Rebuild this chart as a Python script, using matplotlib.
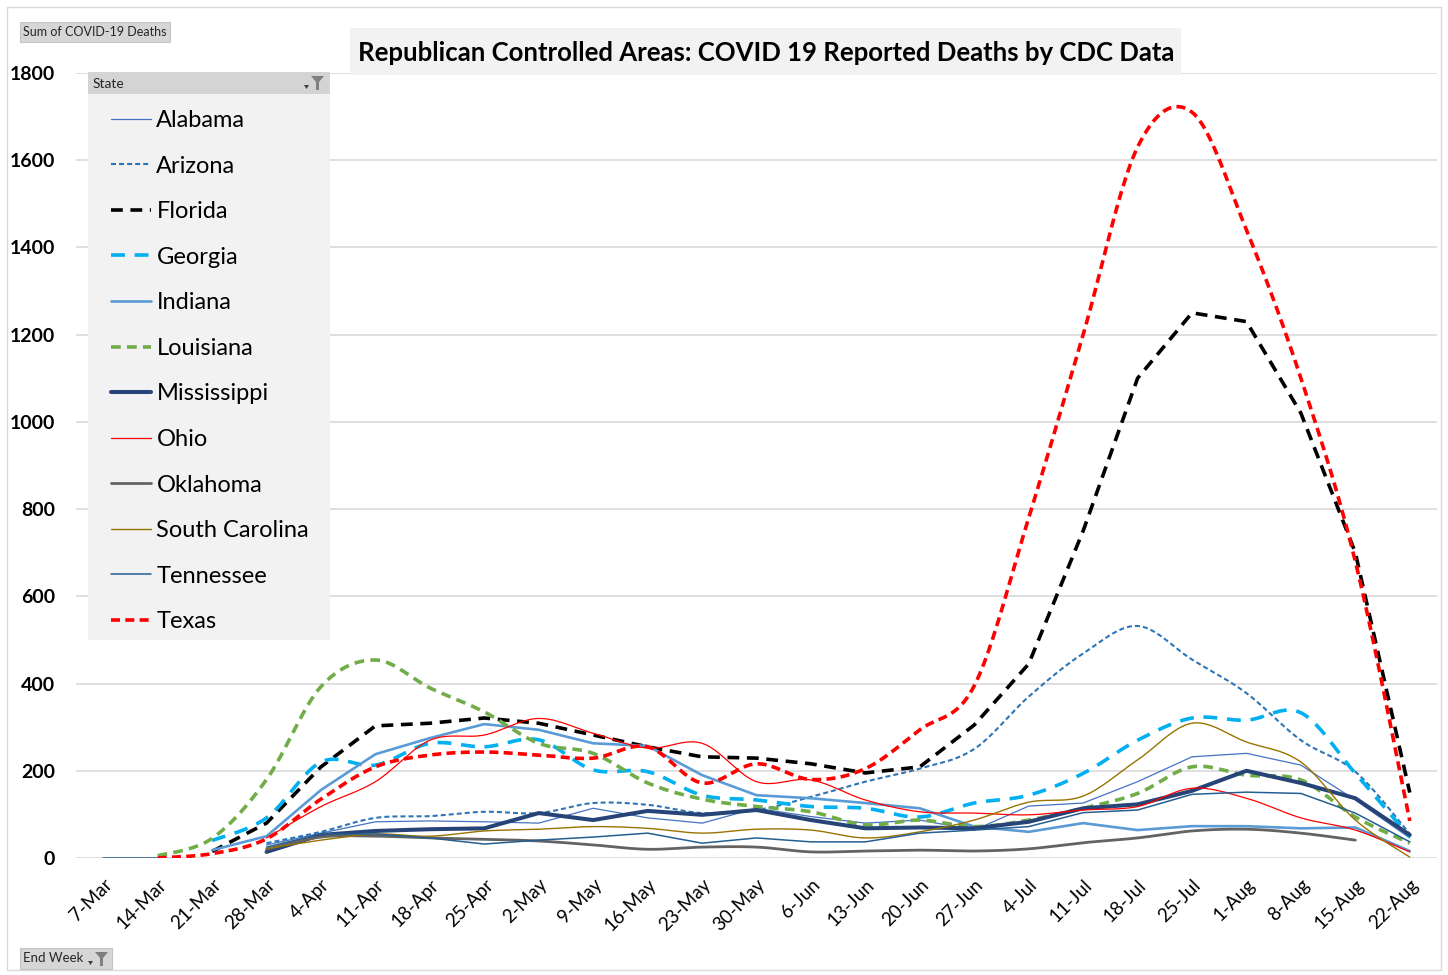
"""Republican controlled areas: weekly COVID-19 deaths (CDC), Excel pivot chart look-alike."""

import numpy as np
import matplotlib.pyplot as plt
from matplotlib.patches import Rectangle, Polygon

plt.rcParams["font.family"] = ["Lato", "DejaVu Sans"]
plt.rcParams["lines.scale_dashes"] = False

nan = np.nan

weeks = ["7-Mar", "14-Mar", "21-Mar", "28-Mar", "4-Apr", "11-Apr", "18-Apr", "25-Apr",
         "2-May", "9-May", "16-May", "23-May", "30-May", "6-Jun", "13-Jun", "20-Jun",
         "27-Jun", "4-Jul", "11-Jul", "18-Jul", "25-Jul", "1-Aug", "8-Aug", "15-Aug", "22-Aug"]

alabama = [nan, nan, nan, 30, 57, 83, 85, 83, 80, 114, 92, 80, 114, 95, 80, 87, 64,
           119, 126, 175, 232, 240, 213, 133, 46]
arizona = [nan, nan, nan, 34, 60, 92, 96, 106, 103, 126, 122, 103, 110, 140, 175, 205, 250,
           370, 469, 532, 455, 378, 270, 198, 55]
florida = [nan, nan, 15, 80, 209, 303, 309, 321, 309, 282, 255, 232, 229, 216, 195, 209, 305,
           445, 750, 1100, 1250, 1230, 1020, 700, 150]
georgia = [nan, nan, 40, 92, 220, 213, 263, 255, 271, 202, 198, 144, 133, 118, 114, 94, 126,
           144, 194, 270, 321, 316, 333, 194, 48]
indiana = [nan, nan, 18, 50, 156, 238, 275, 307, 294, 263, 257, 190, 144, 137, 126, 114, 72,
           60, 80, 64, 73, 73, 68, 70, 16]
louisiana = [nan, 5, 45, 180, 393, 454, 390, 335, 263, 240, 172, 135, 118, 106, 76, 87, 72,
             87, 114, 148, 209, 190, 179, 94, 34]
mississippi = [nan, nan, nan, 14, 53, 62, 66, 68, 103, 87, 108, 99, 110, 87, 68, 70, 68,
               83, 114, 123, 154, 200, 172, 137, 53]
ohio = [nan, nan, nan, 46, 118, 175, 270, 282, 320, 286, 252, 263, 175, 179, 133, 106, 103,
        99, 110, 118, 160, 137, 92, 64, 14]
oklahoma = [nan, nan, nan, 20, 48, 50, 46, 43, 39, 30, 20, 25, 25, 14, 16, 18, 16,
            21, 35, 46, 62, 66, 57, 41, nan]
south_carolina = [nan, nan, nan, 22, 41, 55, 50, 62, 66, 72, 68, 57, 66, 64, 46, 60, 87,
                  128, 142, 225, 309, 266, 220, 87, 2]
tennessee = [0, 0, nan, 25, 55, 55, 46, 32, 41, 48, 57, 34, 46, 37, 37, 57, 64,
             72, 104, 110, 146, 151, 148, 103, 37]
texas = [nan, 0, 10, 44, 135, 209, 236, 243, 236, 229, 255, 172, 216, 180, 205, 294, 395,
         780, 1200, 1630, 1710, 1440, 1100, 680, 85]

# name, values, color, linewidth (pt), dashes, smoothed
SERIES = [
    ("Alabama", alabama, "#4472C4", 0.9, None, False),
    ("Arizona", arizona, "#2E75B6", 1.5, (3.6, 2.2), True),
    ("Florida", florida, "#000000", 2.6, (8.5, 5.5), False),
    ("Georgia", georgia, "#00B0F0", 2.6, (10, 7), True),
    ("Indiana", indiana, "#5B9BD5", 1.9, None, False),
    ("Louisiana", louisiana, "#70AD47", 2.6, (7, 4.5), True),
    ("Mississippi", mississippi, "#264478", 2.9, None, False),
    ("Ohio", ohio, "#FF0000", 0.9, None, True),
    ("Oklahoma", oklahoma, "#636363", 2.0, None, True),
    ("South Carolina", south_carolina, "#997300", 1.0, None, True),
    ("Tennessee", tennessee, "#255E91", 1.1, None, False),
    ("Texas", texas, "#FF0000", 2.6, (6.5, 3.8), True),
]

W, H = 1448, 975


def fx(px):
    return px / W


def fy(py):
    return 1 - py / H


def runs(x, y):
    """Split into contiguous non-NaN pieces (Excel leaves gaps)."""
    ok = ~np.isnan(y)
    pieces, start = [], None
    for i, good in enumerate(ok):
        if good and start is None:
            start = i
        if not good and start is not None:
            pieces.append((x[start:i], y[start:i]))
            start = None
    if start is not None:
        pieces.append((x[start:], y[start:]))
    return pieces


def excel_smooth(x, y, n=24):
    """Bezier through the points, like Excel's smoothed line."""
    if len(x) < 3:
        return x, y
    px = np.concatenate([[x[0]], x, [x[-1]]])
    py = np.concatenate([[y[0]], y, [y[-1]]])
    t = np.linspace(0, 1, n)
    xs, ys = [], []
    for i in range(1, len(px) - 2):
        p0 = np.array([px[i - 1], py[i - 1]])
        p1 = np.array([px[i], py[i]])
        p2 = np.array([px[i + 1], py[i + 1]])
        p3 = np.array([px[i + 2], py[i + 2]])
        c1 = p1 + (p2 - p0) / 6
        c2 = p2 - (p3 - p1) / 6
        b = ((1 - t) ** 3)[:, None] * p1 + (3 * (1 - t) ** 2 * t)[:, None] * c1 \
            + (3 * (1 - t) * t ** 2)[:, None] * c2 + (t ** 3)[:, None] * p2
        xs.append(b[:-1, 0])
        ys.append(b[:-1, 1])
    xs.append([x[-1]])
    ys.append([y[-1]])
    return np.concatenate(xs), np.concatenate(ys)


fig = plt.figure(figsize=(W / 100, H / 100), dpi=100)
ax = fig.add_axes([fx(76), fy(858), fx(1437) - fx(76), fy(73) - fy(858)])

x = np.arange(len(weeks), dtype=float)
handles = []
for name, vals, color, lw, dash, smooth in SERIES:
    y = np.array(vals, dtype=float)
    first = True
    for xr, yr in runs(x, y):
        if smooth:
            xr, yr = excel_smooth(xr, yr)
        kw = dict(color=color, lw=lw, solid_capstyle="round", dash_capstyle="butt",
                  solid_joinstyle="round", dash_joinstyle="round")
        if dash:
            kw["dashes"] = dash
        line, = ax.plot(xr, yr, label=name if first else None, **kw)
        if first:
            handles.append(line)
            first = False

ax.set_xlim(-0.5, len(weeks) - 0.5)
ax.set_ylim(0, 1800)
ax.set_yticks(np.arange(0, 1801, 200))
ax.set_yticklabels([str(v) for v in range(0, 1801, 200)], fontsize=14, fontweight="bold")
ax.set_xticks(x)
ax.set_xticklabels(weeks, rotation=45, ha="right", rotation_mode="anchor", fontsize=13.5)
ax.tick_params(axis="y", length=0, pad=15)
ax.tick_params(axis="x", length=0, pad=13)
ax.grid(axis="y", color="#D9D9D9", lw=1.2)
ax.set_axisbelow(True)
for s in ax.spines.values():
    s.set_visible(False)

# chart outline
fig.add_artist(Rectangle((fx(7), fy(970)), fx(1441) - fx(7), fy(7) - fy(970),
                         transform=fig.transFigure, fill=False, edgecolor="#D9D9D9", lw=1))

# title box
fig.add_artist(Rectangle((fx(350), fy(75)), fx(1181) - fx(350), fy(28) - fy(75),
                         transform=fig.transFigure, facecolor="#F2F2F2", edgecolor="none"))
fig.text(fx(766), fy(53), "Republican Controlled Areas: COVID 19 Reported Deaths by CDC Data",
         ha="center", va="center", fontsize=18.5, fontweight="bold")


def funnel(xl, yt, z=4):
    # little pivot filter icon
    fig.add_artist(Polygon([(fx(xl), fy(yt)), (fx(xl + 13), fy(yt)), (fx(xl + 8), fy(yt + 6)),
                            (fx(xl + 8), fy(yt + 14)), (fx(xl + 5), fy(yt + 14)), (fx(xl + 5), fy(yt + 6))],
                           closed=True, transform=fig.transFigure, facecolor="#7F7F7F",
                           edgecolor="none", zorder=z))
    fig.add_artist(Polygon([(fx(xl - 7), fy(yt + 9)), (fx(xl - 2), fy(yt + 9)), (fx(xl - 4.5), fy(yt + 13))],
                           closed=True, transform=fig.transFigure, facecolor="#404040",
                           edgecolor="none", zorder=z))


# pivot field buttons
fig.add_artist(Rectangle((fx(20), fy(42)), fx(170) - fx(20), fy(22) - fy(42),
                         transform=fig.transFigure, facecolor="#D6D6D6", edgecolor="#C4C4C4", lw=0.8))
fig.text(fx(23), fy(32), "Sum of COVID-19 Deaths", ha="left", va="center", fontsize=9,
         color="#262626")
fig.add_artist(Rectangle((fx(20), fy(969)), fx(112) - fx(20), fy(948) - fy(969),
                         transform=fig.transFigure, facecolor="#D6D6D6", edgecolor="#C4C4C4", lw=0.8))
fig.text(fx(23), fy(958.5), "End Week", ha="left", va="center", fontsize=9.5, color="#262626")
funnel(95, 952)

# legend panel with header bar
fig.add_artist(Rectangle((fx(88), fy(640)), fx(330) - fx(88), fy(72) - fy(640),
                         transform=fig.transFigure, facecolor="#F2F2F2", edgecolor="none", zorder=3))
fig.add_artist(Rectangle((fx(88), fy(94)), fx(330) - fx(88), fy(72) - fy(94),
                         transform=fig.transFigure, facecolor="#D4D4D4", edgecolor="none", zorder=3))
fig.text(fx(93), fy(83.5), "State", ha="left", va="center", fontsize=10, color="#262626", zorder=4)
funnel(311, 76)

leg = fig.legend(handles=handles, loc="upper left", bbox_to_anchor=(fx(104), fy(103)),
                 bbox_transform=fig.transFigure, frameon=False, fontsize=17,
                 handlelength=1.7, handletextpad=0.22, labelspacing=1.04, borderpad=0.3,
                 borderaxespad=0)
leg.set_zorder(5)

fig.savefig("out.png", dpi=100)
